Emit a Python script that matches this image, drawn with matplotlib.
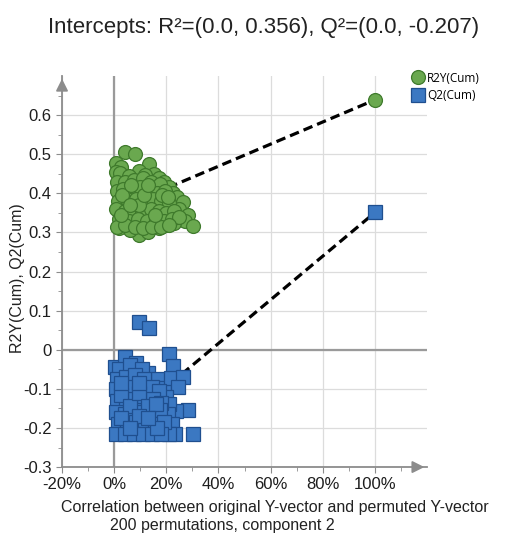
import numpy as np
import matplotlib.pyplot as plt
from matplotlib.ticker import FixedLocator, FuncFormatter

plt.rcParams['font.family'] = ['Liberation Sans', 'DejaVu Sans']

## Data (x = correlation in %, y = cumulative value)
r2_x = [4.1, 8.0, 0.6, 2.5, 13.5, 0.6, 2.3, 9.6, 15.4, 5.5,
        12.0, 17.0, 19.0, 21.2, 22.5, 24.0, 26.3, 25.0, 28.2, 27.0,
        30.1, 9.6, 6.0, 13.0, 2.0, 17.0, 20.0, 23.0,
        1.0, 4.0, 7.5, 11.0, 14.0, 17.5,
        1.0, 3.5, 7.0, 10.0, 13.5, 16.5, 19.5,
        1.5, 5.0, 8.5, 12.0, 15.0, 18.0, 21.0,
        0.8, 4.0, 7.0, 10.5, 14.0, 17.0, 20.0, 23.0,
        2.0, 5.5, 9.0, 12.5, 16.0, 19.0, 22.0, 25.0,
        1.0, 4.0, 8.0, 11.0, 14.5, 18.0, 21.0,
        3.0, 6.5, 9.5, 15.5, 18.5, 2.5, 11.5, 6.0, 13.0, 20.5]
r2_y = [0.505, 0.500, 0.478, 0.468, 0.475, 0.455, 0.452, 0.458, 0.450, 0.445,
        0.448, 0.440, 0.430, 0.415, 0.400, 0.390, 0.377, 0.360, 0.345, 0.330,
        0.317, 0.294, 0.305, 0.300, 0.310, 0.310, 0.320, 0.325,
        0.430, 0.430, 0.435, 0.440, 0.430, 0.425,
        0.405, 0.410, 0.410, 0.415, 0.405, 0.400, 0.405,
        0.380, 0.385, 0.385, 0.380, 0.385, 0.380, 0.375,
        0.360, 0.355, 0.360, 0.355, 0.360, 0.355, 0.350, 0.355,
        0.335, 0.330, 0.335, 0.330, 0.335, 0.330, 0.335, 0.340,
        0.315, 0.320, 0.315, 0.310, 0.315, 0.315, 0.320,
        0.395, 0.420, 0.370, 0.345, 0.395, 0.345, 0.395, 0.370, 0.420, 0.390]

q2_x = [9.6, 13.5,
        0.5, 4.1, 8.3, 12.8, 16.7, 19.2, 2.0, 6.0, 10.5,
        21.2, 22.4, 21.8, 26.3, 24.6, 28.2, 23.7, 30.1,
        20.0, 21.0, 20.5, 22.0, 23.5, 21.0,
        1.0, 4.5, 8.0, 11.5,
        0.8, 4.0, 7.5, 11.0, 14.5, 17.0,
        1.2, 4.5, 8.0, 11.5, 15.0, 18.0,
        0.8, 4.0, 7.5, 11.0, 14.5, 17.5,
        1.5, 5.0, 8.5, 12.0, 15.5, 19.0,
        0.8, 4.0, 7.5, 11.0, 14.5, 18.0,
        2.5, 6.0, 9.5, 13.0, 16.0, 2.5, 9.5, 16.5, 6.0, 13.0, 2.5, 9.5]
q2_y = [0.072, 0.055,
        -0.045, -0.019, -0.033, -0.059, -0.076, -0.097, -0.050, -0.040, -0.050,
        -0.010, -0.042, -0.072, -0.070, -0.096, -0.153, -0.157, -0.215,
        -0.120, -0.140, -0.165, -0.190, -0.215, -0.215,
        -0.075, -0.070, -0.065, -0.075,
        -0.100, -0.105, -0.095, -0.100, -0.095, -0.105,
        -0.130, -0.135, -0.125, -0.130, -0.125, -0.135,
        -0.160, -0.165, -0.155, -0.160, -0.165, -0.155,
        -0.190, -0.190, -0.185, -0.190, -0.190, -0.185,
        -0.215, -0.215, -0.215, -0.215, -0.215, -0.215,
        -0.115, -0.145, -0.110, -0.145, -0.140, -0.175, -0.170, -0.200, -0.200, -0.175,
        -0.085, -0.085]

orig_x = 100
r2_orig = 0.639
q2_orig = 0.351
r2_icept = 0.356
q2_icept = -0.207

green, green_edge = '#6aa84f', '#3f7a2c'
blue, blue_edge = '#3b78c2', '#1f4f8f'

fig = plt.figure(figsize=(5.19, 5.35), dpi=100)
ax = fig.add_axes([0.1195, 0.127, 0.7035, 0.731])

ax.set_xlim(-20, 120)
ax.set_ylim(-0.3, 0.70)

# grid + zero lines
ax.xaxis.set_major_locator(FixedLocator([-20, 0, 20, 40, 60, 80, 100]))
ax.xaxis.set_minor_locator(FixedLocator([-10, 10, 30, 50, 70, 90, 110]))
ax.yaxis.set_major_locator(FixedLocator(np.round(np.arange(-0.3, 0.61, 0.1), 2)))
ax.yaxis.set_minor_locator(FixedLocator(np.round(np.arange(-0.25, 0.66, 0.1), 2)))
ax.grid(True, which='major', color='#dcdcdc', lw=0.9)
ax.set_axisbelow(True)
ax.axhline(0, color='#9a9a9a', lw=1.6, zorder=1)
ax.axvline(0, color='#9a9a9a', lw=1.6, zorder=1)

# regression lines (intercept -> original), drawn under the markers
ax.plot([0, orig_x], [r2_icept, r2_orig], color='black', lw=2.3, ls=(0, (3, 1.6)), zorder=2)
ax.plot([0, orig_x], [q2_icept, q2_orig], color='black', lw=2.3, ls=(0, (3, 1.6)), zorder=2)

ax.plot(r2_x + [orig_x], r2_y + [r2_orig], 'o', ms=10, mfc=green, mec=green_edge,
        mew=0.9, ls='none', zorder=3, label='R2Y(Cum)')
ax.plot(q2_x + [orig_x], q2_y + [q2_orig], 's', ms=9.6, mfc=blue, mec=blue_edge,
        mew=0.9, ls='none', zorder=3, label='Q2(Cum)')

# axes styling
for s in ['top', 'right']:
    ax.spines[s].set_visible(False)
for s in ['left', 'bottom']:
    ax.spines[s].set_color('#8c8c8c')
    ax.spines[s].set_linewidth(1.3)
ax.tick_params(which='both', colors='#8c8c8c', labelcolor='#1e1e1e', labelsize=12, direction='out')
ax.tick_params(which='major', length=4)
ax.tick_params(which='minor', length=3)
ax.xaxis.set_major_formatter(FuncFormatter(lambda v, p: f"{int(round(v))}%"))
ax.yaxis.set_major_formatter(FuncFormatter(lambda v, p: "0" if abs(v) < 1e-9 else f"{v:.1f}"))

# arrow heads on the axes
ax.annotate('', xy=(0, 1.0), xytext=(0, 0.96), xycoords='axes fraction',
            arrowprops=dict(arrowstyle='-|>', color='#8c8c8c', lw=1.3, mutation_scale=18))
ax.annotate('', xy=(1.0, 0), xytext=(0.96, 0), xycoords='axes fraction',
            arrowprops=dict(arrowstyle='-|>', color='#8c8c8c', lw=1.3, mutation_scale=18))

fig.text(0.507, 0.948, 'Intercepts: R\u00b2=(0.0, 0.356), Q\u00b2=(0.0, -0.207)',
         ha='center', va='center', fontsize=16, color='#222222')
fig.text(0.530, 0.052, 'Correlation between original Y-vector and permuted Y-vector',
         ha='center', va='center', fontsize=11.5, color='#222222')
fig.text(0.428, 0.017, '200 permutations, component 2',
         ha='center', va='center', fontsize=11.5, color='#222222')
fig.text(0.033, 0.48, 'R2Y(Cum), Q2(Cum)', rotation=90,
         ha='center', va='center', fontsize=11.5, color='#222222')

ax.legend(loc='upper left', bbox_to_anchor=(0.782, 0.875), bbox_transform=fig.transFigure,
          frameon=False, handletextpad=0.2, labelspacing=0.35,
          borderaxespad=0, handlelength=1.2, prop={'family': 'Open Sans', 'size': 8.5})

fig.savefig('out.png', dpi=100)
